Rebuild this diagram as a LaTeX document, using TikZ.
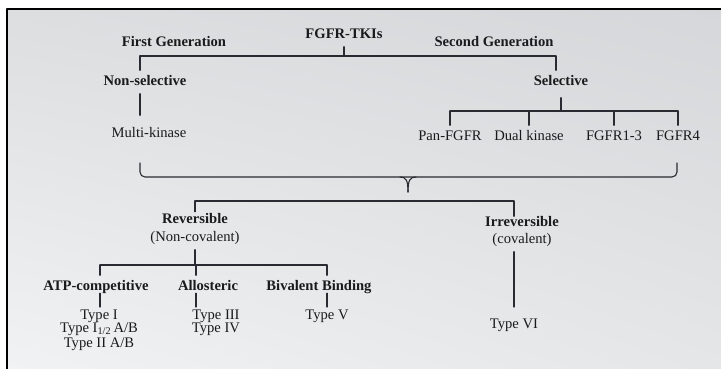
\documentclass[tikz,border=0pt]{standalone}
\usepackage{fontspec}
\setmainfont{Liberation Serif}
\usetikzlibrary{positioning,shadings}
\definecolor{inkline}{RGB}{40,43,50}
\definecolor{inktext}{RGB}{26,26,28}
\definecolor{bgUL}{RGB}{221,222,224}
\definecolor{bgUR}{RGB}{213,215,218}
\definecolor{bgLL}{RGB}{241,242,243}
\definecolor{bgLR}{RGB}{229,230,231}
\tikzset{
    term/.style={inner xsep=2pt, inner ysep=5pt, text height=10pt, text depth=3pt,
        text=inktext, font=\fontsize{14.6}{13}\selectfont},
    head/.style={term, font=\fontsize{14.6}{13}\selectfont\bfseries},
    typelist/.style={align=center, inner sep=0pt, anchor=north, text=inktext,
        font=\fontsize{14.6}{13}\selectfont},
    tree/.style={draw=inkline, line width=1.1pt}
}
\begin{document}
\begin{tikzpicture}[x=1pt, y=-1pt, line cap=round, line join=round]
    \useasboundingbox (0,0) rectangle (721,369);
    % Panel
    \shade[upper left=bgUL, upper right=bgUR, lower left=bgLL, lower right=bgLR]
        (7,9) rectangle (721,369);
    \draw[line width=1.6pt, black, line cap=butt] (7,369) -- (7,9) -- (721,9);
    % Generations
    \node[head] (tkis)   at (344,35)  {FGFR-TKIs};
    \node[head] (gen1)   at (174,43)  {First Generation};
    \node[head] (gen2)   at (494,43)  {Second Generation};
    \node[head] (nonsel) at (145,82)  {Non-selective};
    \node[head] (sel)    at (561,82)  {Selective};
    \node[term] (multi)  at (149,134) {Multi-kinase};
    \node[term] (pan)    at (450,137) {Pan-FGFR};
    \node[term] (dual)   at (529,137) {Dual kinase};
    \node[term] (fgfr13) at (614,137) {FGFR1-3};
    \node[term] (fgfr4)  at (678,137) {FGFR4};
    \coordinate (genbar) at (0,56);
    \coordinate (selbar) at (0,111);
    \draw[tree] (tkis.south) -- (tkis.south |- genbar) -| ([xshift=-5pt]nonsel.north);
    \draw[tree] (tkis.south |- genbar) -| ([xshift=-5pt]sel.north);
    \draw[tree, shorten >=7pt] ([xshift=-5pt]nonsel.south) -- ([xshift=-9pt]multi.north);
    \draw[tree, shorten <=4pt] (sel.south) -- (sel.south |- selbar);
    \draw[tree] (pan.north |- selbar) -- (fgfr4.north |- selbar);
    \foreach \n in {pan,dual,fgfr13,fgfr4}{
        \draw[tree] (\n.north |- selbar) -- (\n.north);
    }
    % Brace
    \coordinate (braceL) at (140,163);
    \coordinate (braceR) at (677,163);
    \coordinate (braceTip) at (408,192);
    \draw[tree, rounded corners=5pt] (braceL) |- (braceR |- 0,177) -- (braceR);
    \draw[tree] (braceTip) .. controls +(0,-12) and +(6,0) .. ++(-8,-15);
    \draw[tree] (braceTip) .. controls +(0,-12) and +(-6,0) .. ++(8,-15);
    % Binding mode
    \node[head] (rev)    at (195,220) {Reversible};
    \node[term] (revcov) at (195,238) {(Non-covalent)};
    \node[head] (irr)    at (522,223) {Irreversible};
    \node[term] (irrcov) at (522,240) {(covalent)};
    \coordinate (bondbar) at (0,201);
    \coordinate (revbar) at (0,265);
    \draw[tree, shorten <=-3.5pt, shorten >=-5pt] (rev.north) |- ([xshift=-8pt]irr.north |- bondbar)
        -- ([xshift=-8pt]irr.north);
    \draw[tree] (revcov.south) -- (revcov.south |- revbar);
    % Reversible classes
    \node[head] (atp)  at (96,287)  {ATP-competitive};
    \node[head] (allo) at (208,287) {Allosteric};
    \node[head] (biv)  at (319,287) {Bivalent Binding};
    \node[typelist] (atptypes)  at (99,310)  {Type I\\Type I\textsubscript{1/2}\,A/B\\[1.5pt]Type II A/B};
    \node[typelist] (allotypes) at (216,310) {Type III\\Type IV};
    \node[typelist] (bivtypes)  at (327,310) {Type V};
    \node[typelist] (irrtypes)  at (514,319) {Type VI};
    \draw[tree] ([xshift=4pt]atp.north |- revbar) -- ([xshift=8pt]biv.north |- revbar);
    \foreach \n/\dx in {atp/4pt,allo/-12pt,biv/8pt}{
        \draw[tree] ([xshift=\dx]\n.north |- revbar) -- ([xshift=\dx]\n.north);
        \draw[tree, shorten <=-5.5pt, shorten >=3pt] ([xshift=\dx]\n.south)
            -- ([xshift=\dx]\n.south |- atptypes.north);
    }
    \draw[tree, shorten >=12pt] ([xshift=-8pt]irrcov.south) -- (irrtypes.north);
\end{tikzpicture}
\end{document}
